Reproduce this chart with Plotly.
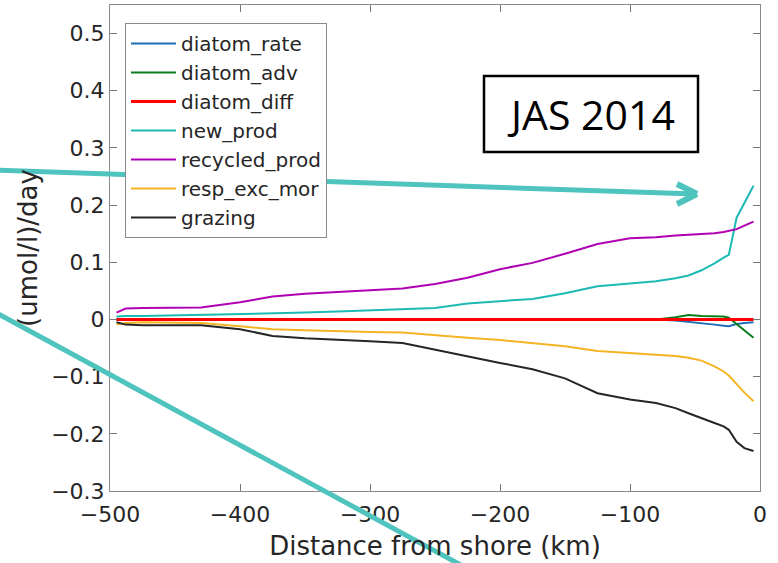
import plotly.graph_objects as go

# ---- data ----
distance_km = [-495, -488, -475, -450, -430, -400, -375, -350, -325, -300, -275, -250,
               -225, -200, -175, -150, -125, -100, -80, -65, -55, -45, -35, -28, -24,
               -18, -12, -5]

diatom_rate = [0, 0, 0, 0, 0, 0, 0, 0, 0, 0, 0, 0, 0, 0, 0, 0, 0, 0, 0,
               -0.002, -0.004, -0.006, -0.009, -0.011, -0.012, -0.008, -0.006, -0.005]
diatom_adv = [0, 0, 0, 0, 0, 0, 0, 0, 0, 0, 0, 0, 0, 0, 0, 0, 0, 0, 0,
              0.004, 0.008, 0.006, 0.005, 0.005, 0.003, -0.008, -0.020, -0.032]
diatom_diff = [0] * 28
new_prod = [0.005, 0.006, 0.006, 0.007, 0.008, 0.009, 0.010, 0.012, 0.014, 0.016, 0.018,
            0.020, 0.028, 0.032, 0.036, 0.046, 0.058, 0.063, 0.067, 0.072, 0.077, 0.086,
            0.098, 0.108, 0.113, 0.178, 0.205, 0.234]
recycled_prod = [0.012, 0.019, 0.020, 0.020, 0.021, 0.030, 0.040, 0.045, 0.048, 0.050,
                 0.054, 0.062, 0.073, 0.088, 0.099, 0.115, 0.132, 0.142, 0.144, 0.147,
                 0.148, 0.150, 0.151, 0.153, 0.155, 0.158, 0.164, 0.171]
resp_exc_mor = [-0.009, -0.006, -0.005, -0.005, -0.006, -0.012, -0.017, -0.019, -0.021,
                -0.022, -0.023, -0.028, -0.032, -0.036, -0.041, -0.047, -0.055, -0.059,
                -0.061, -0.064, -0.067, -0.072, -0.082, -0.091, -0.098, -0.113, -0.128,
                -0.143]
grazing = [-0.005, -0.009, -0.010, -0.010, -0.010, -0.017, -0.029, -0.033, -0.035, -0.038,
           -0.041, -0.053, -0.065, -0.076, -0.087, -0.103, -0.129, -0.140, -0.146, -0.155,
           -0.164, -0.172, -0.181, -0.187, -0.193, -0.214, -0.225, -0.230]

series_names = ["diatom_rate", "diatom_adv", "diatom_diff", "new_prod",
                "recycled_prod", "resp_exc_mor", "grazing"]
series_values = [diatom_rate, diatom_adv, diatom_diff, new_prod,
                 recycled_prod, resp_exc_mor, grazing]
series_colors = ["#1f6fb8", "#0b7d1c", "#ff0000", "#1cbab3", "#b000b4", "#f5b423", "#262626"]
series_widths = [2, 2, 3, 2, 2, 2, 2]

x_ticks = [-500, -400, -300, -200, -100, 0]
y_ticks = [-0.3, -0.2, -0.1, 0, 0.1, 0.2, 0.3, 0.4, 0.5]

W, H = 778, 563
ML, MR, MT, MB = 110, 18, 5, 72


def px(x):
    return (x - ML) / (W - ML - MR)


def py(y):
    return (H - MB - y) / (H - MT - MB)


fig = go.Figure()
for name, vals, col, lw in zip(series_names, series_values, series_colors, series_widths):
    fig.add_trace(go.Scatter(x=distance_km, y=vals, mode="lines", name=name,
                             line=dict(color=col, width=lw)))

axis_common = dict(showline=True, linecolor="#8a8a8a", linewidth=1, mirror="ticks",
                   ticks="inside", ticklen=7, tickcolor="#777777", showgrid=False,
                   zeroline=False, tickfont=dict(family="DejaVu Sans", size=22, color="#262626"))

fig.update_layout(
    width=W, height=H,
    margin=dict(l=ML, r=MR, t=MT, b=MB),
    paper_bgcolor="white", plot_bgcolor="white",
    xaxis=dict(range=[-500, 0], tickvals=x_ticks, ticklabelstandoff=4,
               title=dict(text="Distance from shore (km)", standoff=10,
                          font=dict(family="DejaVu Sans", size=26, color="#262626")),
               **axis_common),
    yaxis=dict(range=[-0.3, 0.55], tickvals=y_ticks,
               title=dict(text="(umol/l)/day", standoff=6,
                          font=dict(family="DejaVu Sans", size=26, color="#262626")),
               **axis_common),
    legend=dict(x=px(125), y=py(23), xanchor="left", yanchor="top",
                bgcolor="white", bordercolor="#8a8a8a", borderwidth=1,
                font=dict(family="DejaVu Sans", size=20, color="#262626"),
                itemwidth=45, tracegroupgap=0),
    showlegend=True,
)

teal = "#4fc3be"
shapes = [
    # JAS box
    dict(type="rect", xref="paper", yref="paper", x0=px(484), x1=px(698), y0=py(152), y1=py(76),
         line=dict(color="black", width=2.5), fillcolor="white", layer="above"),
    # arrow 1 shaft
    dict(type="line", xref="paper", yref="paper", x0=px(-10), y0=py(170), x1=px(695), y1=py(194),
         line=dict(color=teal, width=5), layer="above"),
    dict(type="line", xref="paper", yref="paper", x0=px(677), y0=py(184), x1=px(697), y1=py(194),
         line=dict(color=teal, width=6), layer="above"),
    dict(type="line", xref="paper", yref="paper", x0=px(677), y0=py(204), x1=px(697), y1=py(194),
         line=dict(color=teal, width=6), layer="above"),
    # arrow 2 shaft
    dict(type="line", xref="paper", yref="paper", x0=px(-10), y0=py(309.5), x1=px(470), y1=py(570),
         line=dict(color=teal, width=5), layer="above"),
]
fig.update_layout(shapes=shapes)

fig.add_annotation(text="JAS 2014", xref="paper", yref="paper", x=px(591), y=py(114),
                   xanchor="center", yanchor="middle", showarrow=False,
                   font=dict(family="Open Sans", size=41, color="black"))

fig.write_html("out.html")
